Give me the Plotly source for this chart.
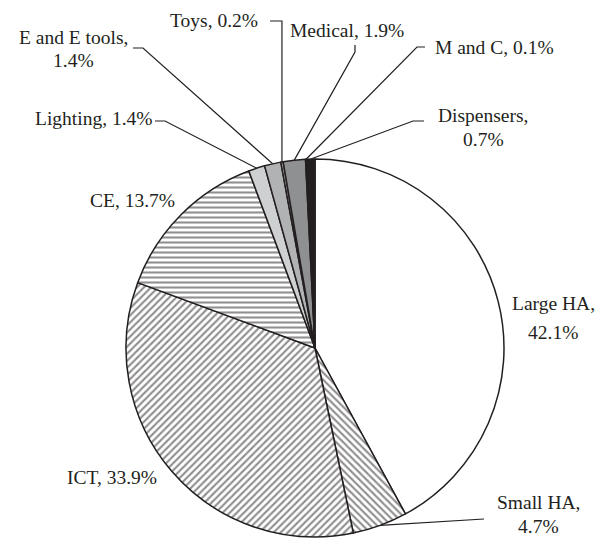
import math
import plotly.graph_objects as go

# ---- data ----
labels = ["Large HA", "Small HA", "ICT", "CE", "Lighting", "E and E tools",
          "Toys", "Medical", "M and C", "Dispensers"]
values = [42.1, 4.7, 33.9, 13.7, 1.4, 1.4, 0.2, 1.9, 0.1, 0.7]
label_lines = [["Large HA,", "42.1%"], ["Small HA,", "4.7%"], ["ICT, 33.9%"], ["CE, 13.7%"],
               ["Lighting, 1.4%"], ["E and E tools,", "1.4%"], ["Toys, 0.2%"],
               ["Medical, 1.9%"], ["M and C, 0.1%"], ["Dispensers,", "0.7%"]]

# ---- styles ----
fill_colors = ["#ffffff", "#ffffff", "#ffffff", "#ffffff", "#cfd0d2", "#b1b2b4",
               "#a0a1a3", "#8f9092", "#4a4a4c", "#231f20"]
pattern_shapes = ["", "\\", "/", "-", "", "", "", "", "", ""]
INK = "#231f20"
FONT = "Liberation Serif"
FS = 19.5

W, H = 607, 539
CX, CY, R = 315, 348, 189

# label layout: (x, y of first line, xanchor, line gap)
label_pos = {
    "Large HA": (553, 303, "center", 29),
    "Small HA": (538, 502, "center", 24),
    "ICT": (159, 477, "right", 0),
    "CE": (132, 200, "center", 0),
    "Lighting": (155, 118, "right", 0),
    "E and E tools": (73, 37, "center", 23),
    "Toys": (260, 20, "right", 0),
    "Medical": (347, 30, "center", 0),
    "M and C": (433, 47, "left", 0),
    "Dispensers": (483, 115, "center", 24),
}
# leader line label-side points (anchor, elbow); end point computed on pie edge
leaders = {
    "Small HA": [(484, 519)],
    "Lighting": [(155, 121), (165, 121)],
    "E and E tools": [(133, 48), (143, 48)],
    "Toys": "vertical",
    "Medical": [(355, 45), (355, 52)],
    "M and C": [(425, 47), (417, 47)],
    "Dispensers": [(424, 121), (413, 121)],
}

fig = go.Figure()
fig.add_trace(go.Pie(
    labels=labels, values=values, sort=False, direction="clockwise", rotation=0,
    textinfo="none", hoverinfo="label+percent", showlegend=False,
    marker=dict(colors=fill_colors, line=dict(color=INK, width=1.5),
                pattern=dict(shape=pattern_shapes, fgcolor=INK, bgcolor=fill_colors,
                             size=5, solidity=0.42, fillmode="overlay")),
    domain=dict(x=[(CX - R) / W, (CX + R) / W], y=[1 - (CY + R) / H, 1 - (CY - R) / H]),
))

total = sum(values)
cum = 0.0
edge_pts = {}
for lab, v in zip(labels, values):
    a = 2 * math.pi * (cum + v / 2) / total
    edge_pts[lab] = (CX + R * math.sin(a), CY - R * math.cos(a))
    cum += v

for lab, pts in leaders.items():
    ex, ey = edge_pts[lab]
    if pts == "vertical":
        pts = [(ex - 12, 21), (ex, 21)]
    xs = [p[0] for p in pts] + [ex]
    ys = [p[1] for p in pts] + [ey]
    fig.add_trace(go.Scatter(x=xs, y=ys, mode="lines", line=dict(color=INK, width=1.2),
                             hoverinfo="skip", showlegend=False))

for lab, lines in zip(labels, label_lines):
    x, y, xa, gap = label_pos[lab]
    for i, txt in enumerate(lines):
        fig.add_annotation(x=x, y=y + i * gap, xref="x", yref="y", text=txt,
                           showarrow=False, xanchor=xa, yanchor="middle",
                           align="center", font=dict(family=FONT, size=FS, color=INK))

fig.update_layout(
    width=W, height=H, margin=dict(l=0, r=0, t=0, b=0),
    paper_bgcolor="white", plot_bgcolor="rgba(0,0,0,0)",
    xaxis=dict(range=[0, W], visible=False, domain=[0, 1], fixedrange=True),
    yaxis=dict(range=[H, 0], visible=False, domain=[0, 1], fixedrange=True),
)
fig.write_html("out.html", config={"displayModeBar": False},
               post_script="document.body.style.margin='0';document.body.style.overflow='hidden';")
